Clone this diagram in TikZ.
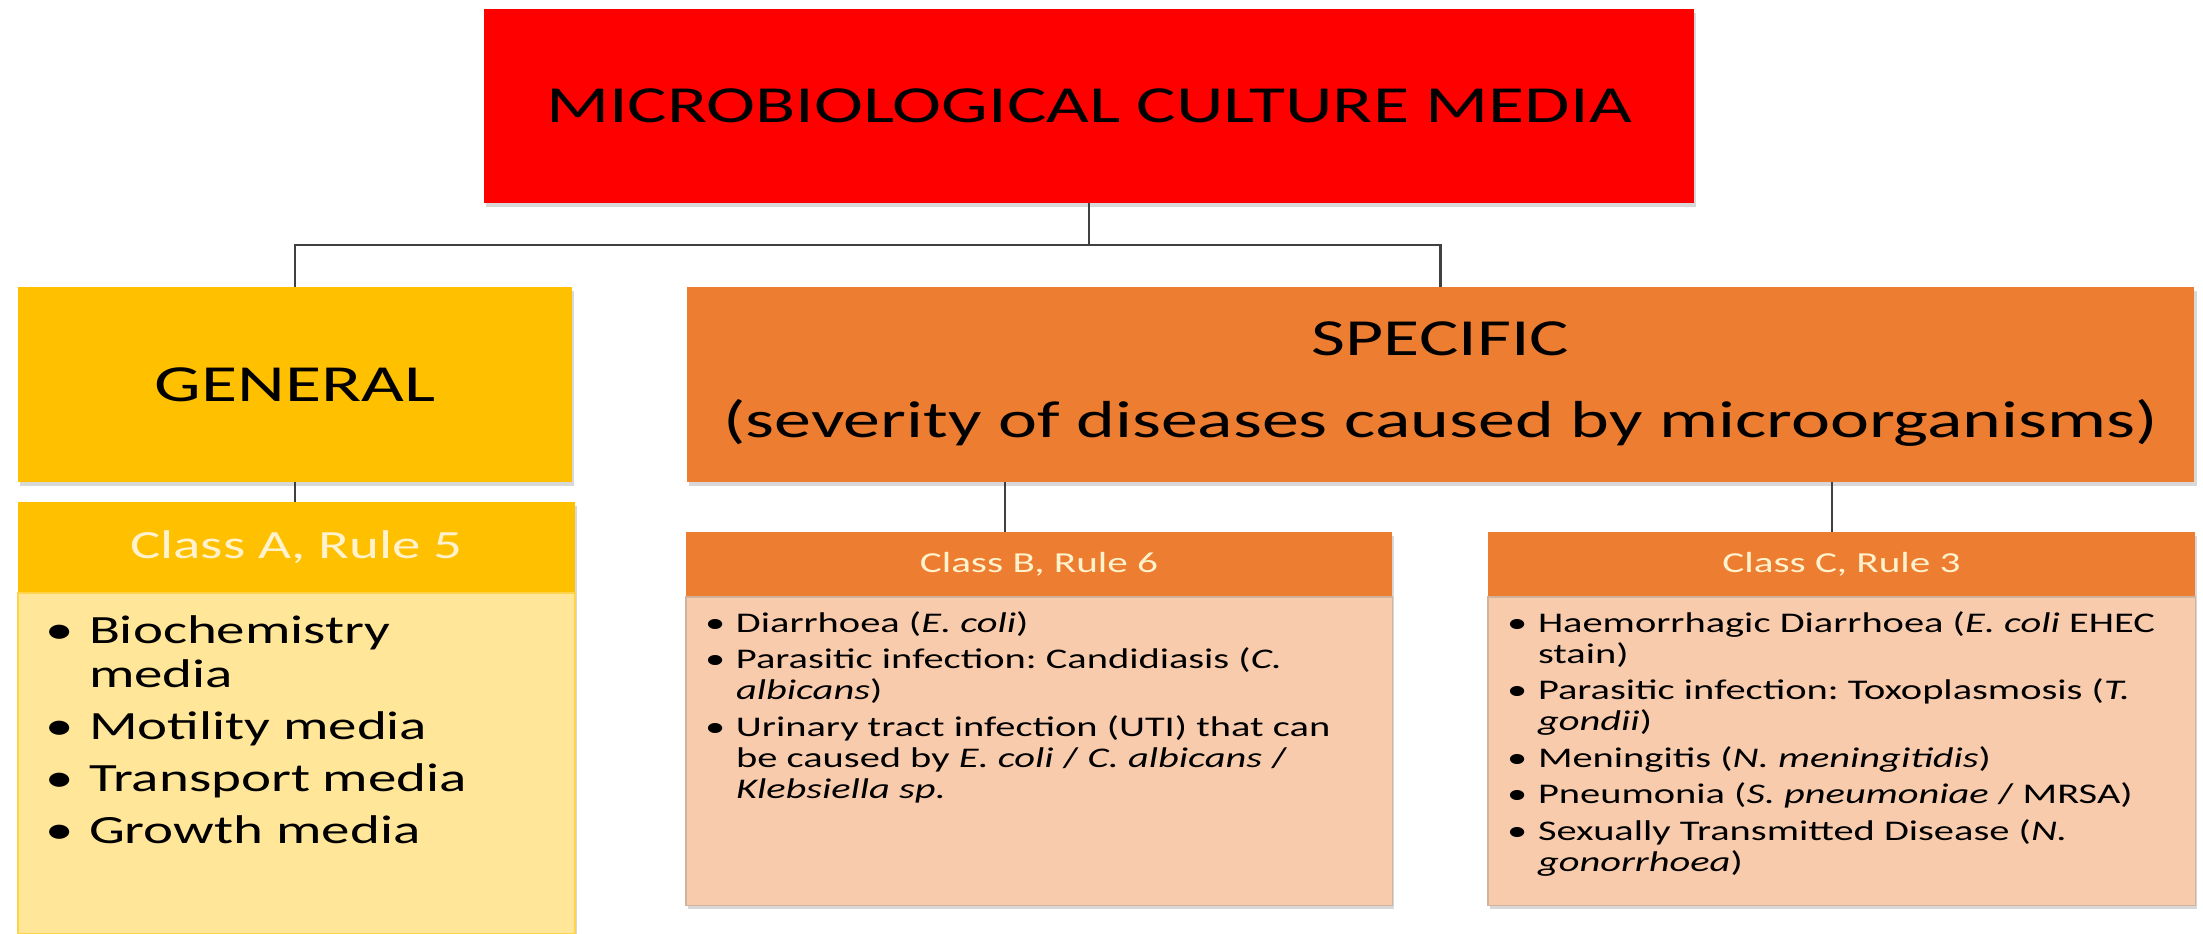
\documentclass[tikz,border=0pt]{standalone}
\usepackage{xcolor}
\usepackage{fontspec}
\setmainfont{Carlito}[FakeStretch=1.42]
\usepackage{tikz}
\usetikzlibrary{positioning,shadows}
\frenchspacing

\definecolor{mediared}{HTML}{FF0000}
\definecolor{gengold}{HTML}{FFC000}
\definecolor{genlight}{HTML}{FFE699}
\definecolor{specorange}{HTML}{ED7D31}
\definecolor{speclight}{HTML}{F8CBAD}
\definecolor{headtext}{HTML}{FFF2CC}

\begin{document}
\begin{tikzpicture}[x=0.01cm, y=-0.01cm,
    box/.style={rectangle, inner sep=0pt, outer sep=0pt, align=center,
      drop shadow={shadow xshift=0.6pt, shadow yshift=-1.2pt, opacity=0.3}},
    bigtext/.style={font=\fontsize{14.8}{23.3}\selectfont},
    headA/.style={font=\fontsize{11.4}{13}\selectfont, text=headtext},
    headBC/.style={font=\fontsize{8.25}{9.5}\selectfont, text=headtext},
    itemlist/.style={anchor=base west, inner sep=0pt, outer sep=0pt},
    conn/.style={draw=black!75, line width=0.6pt}]
  \useasboundingbox[fill=white] (0,0) rectangle (2203,933);

  % top level
  \node[box, fill=mediared, minimum width=12.10cm, minimum height=1.94cm, bigtext] (media) at (1089,106) {MICROBIOLOGICAL CULTURE MEDIA};

  % second level
  \node[box, fill=gengold, minimum width=5.54cm, minimum height=1.95cm, bigtext] (general) at (295,384.5) {GENERAL};
  \node[box, fill=specorange, minimum width=15.07cm, minimum height=1.95cm, bigtext] (specific) at (1440.5,384.5) {SPECIFIC\\(severity of diseases caused by microorganisms)};

  % class boxes
  \node[box, fill=gengold, minimum width=5.57cm, minimum height=0.91cm, headA] (ahead) at (296.5,547.5) {Class A, Rule 5};
  \node[box, fill=genlight, draw=gengold!70, line width=0.4pt, minimum width=5.57cm, minimum height=3.40cm, below=0pt of ahead] (abody) {};
  \node[box, fill=specorange, minimum width=7.06cm, minimum height=0.65cm, headBC] (bhead) at (1039,564.5) {Class B, Rule 6};
  \node[box, fill=speclight, draw=specorange!45!gray!60, line width=0.4pt, minimum width=7.06cm, minimum height=3.08cm, below=0pt of bhead] (bbody) {};
  \node[box, fill=specorange, minimum width=7.07cm, minimum height=0.65cm, headBC] (chead) at (1841.5,564.5) {Class C, Rule 3};
  \node[box, fill=speclight, draw=specorange!45!gray!60, line width=0.4pt, minimum width=7.07cm, minimum height=3.08cm, below=0pt of chead] (cbody) {};

  % lists
  \node[itemlist, font=\fontsize{11.4}{12.52}\selectfont] (alist) at (45,643) {%
    \begin{tabular}[t]{@{}p{0.44cm}@{}l@{}}
      \textbullet & Biochemistry\\
                  & media\\[2.3pt]
      \textbullet & Motility media\\[2.3pt]
      \textbullet & Transport media\\[2.3pt]
      \textbullet & Growth media
    \end{tabular}};
  \node[itemlist, font=\fontsize{8.1}{8.82}\selectfont] (blist) at (705,632) {%
    \begin{tabular}[t]{@{}p{0.31cm}@{}l@{}}
      \textbullet & Diarrhoea (\textit{E. coli})\\[1.6pt]
      \textbullet & Parasitic infection: Candidiasis (\textit{C.}\\
                  & \textit{albicans})\\[1.6pt]
      \textbullet & Urinary tract infection (UTI) that can\\
                  & be caused by \textit{E. coli} / \textit{C. albicans} /\\
                  & \textit{Klebsiella sp.}
    \end{tabular}};
  \node[itemlist, font=\fontsize{8.1}{8.82}\selectfont] (clist) at (1507,632) {%
    \begin{tabular}[t]{@{}p{0.31cm}@{}l@{}}
      \textbullet & Haemorrhagic Diarrhoea (\textit{E. coli} EHEC\\
                  & stain)\\[1.6pt]
      \textbullet & Parasitic infection: Toxoplasmosis (\textit{T.}\\
                  & \textit{gondii})\\[1.6pt]
      \textbullet & Meningitis (\textit{N. meningitidis})\\[1.6pt]
      \textbullet & Pneumonia (\textit{S. pneumoniae} / MRSA)\\[1.6pt]
      \textbullet & Sexually Transmitted Disease (\textit{N.}\\
                  & \textit{gonorrhoea})
    \end{tabular}};

  % connectors
  \coordinate (bus) at (0,245);
  \coordinate (blink) at (1005,0);
  \coordinate (clink) at (1832,0);
  \draw[conn] (media.south) -- (media.south |- bus);
  \draw[conn] (general.north) |- (specific.north |- bus) -- (specific.north);
  \draw[conn] (general.south) -- (general.south |- ahead.north);
  \draw[conn] (specific.south -| blink) -- (bhead.north -| blink);
  \draw[conn] (specific.south -| clink) -- (chead.north -| clink);
\end{tikzpicture}
\end{document}
